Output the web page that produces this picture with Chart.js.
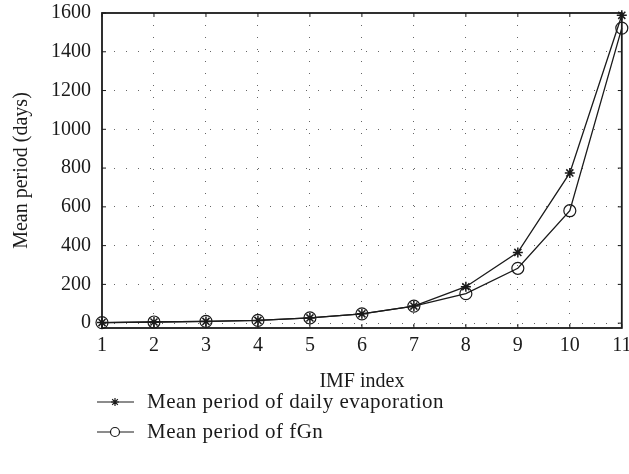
<!DOCTYPE html>
<html>
<head>
<meta charset="utf-8">
<script src="https://cdn.jsdelivr.net/npm/chart.js@4.4.1/dist/chart.umd.min.js"></script>
<style>
  html, body { margin: 0; padding: 0; background: #fff; }
  #wrap { width: 629px; height: 474px; position: relative; }
</style>
</head>
<body>
<div id="wrap"><canvas id="c" width="629" height="474"></canvas></div>
<script>
const imfIndex = [1, 2, 3, 4, 5, 6, 7, 8, 9, 10, 11];
const evaporationPeriod = [3, 6, 9, 14, 27, 48, 88, 188, 365, 775, 1588];
const fgnPeriod = [3, 6, 9, 14, 27, 48, 88, 152, 283, 580, 1522];
const yTicks = [0, 200, 400, 600, 800, 1000, 1200, 1400, 1600];
const seriesNames = ['Mean period of daily evaporation', 'Mean period of fGn'];

const FONT = 'Liberation Serif';
const ink = '#1a1a1a';

const framePlugin = {
  id: 'frame',
  afterDatasetsDraw(chart) {
    const { ctx, chartArea: a, scales: { x, y } } = chart;
    ctx.save();
    ctx.strokeStyle = ink;
    ctx.lineWidth = 1;
    const tl = 4;
    imfIndex.forEach(v => {
      const px = x.getPixelForValue(v);
      ctx.beginPath();
      ctx.moveTo(px, a.bottom); ctx.lineTo(px, a.bottom - tl);
      ctx.moveTo(px, a.top); ctx.lineTo(px, a.top + tl);
      ctx.stroke();
    });
    yTicks.forEach(v => {
      const py = y.getPixelForValue(v);
      ctx.beginPath();
      ctx.moveTo(a.left, py); ctx.lineTo(a.left + tl, py);
      ctx.moveTo(a.right, py); ctx.lineTo(a.right - tl, py);
      ctx.stroke();
    });
    ctx.lineWidth = 1.8;
    ctx.strokeRect(a.left, a.top, a.right - a.left, a.bottom - a.top);
    ctx.restore();
  }
};

const legendPlugin = {
  id: 'customLegend',
  afterDraw(chart) {
    const { ctx } = chart;
    ctx.save();
    const rows = [402, 432];
    chart.data.datasets.forEach((ds, i) => {
      const yy = rows[i];
      ctx.strokeStyle = ink;
      ctx.lineWidth = 1.2;
      ctx.beginPath();
      ctx.moveTo(97, yy); ctx.lineTo(134, yy);
      ctx.stroke();
      ctx.fillStyle = ds.pointStyle === 'star' ? ink : '#ffffff';
      Chart.helpers.drawPoint(ctx, {
        pointStyle: ds.pointStyle, radius: ds.pointStyle === 'star' ? 4 : 4.5, rotation: 0, borderWidth: 1.2
      }, 115, yy);
      ctx.fillStyle = ink;
      ctx.font = '21px "' + FONT + '"';
      ctx.letterSpacing = '0.5px';
      ctx.textBaseline = 'middle';
      ctx.textAlign = 'left';
      ctx.fillText(ds.label, 147, yy);
      ctx.letterSpacing = '0px';
    });
    ctx.restore();
  }
};

new Chart(document.getElementById('c'), {
  type: 'line',
  data: {
    datasets: [
      {
        label: seriesNames[0],
        data: imfIndex.map((v, i) => ({ x: v, y: evaporationPeriod[i] })),
        borderColor: ink, backgroundColor: ink, borderWidth: 1.3,
        pointStyle: 'star', pointRadius: 5, pointBorderWidth: 1.5,
        pointBorderColor: ink, tension: 0, clip: false
      },
      {
        label: seriesNames[1],
        data: imfIndex.map((v, i) => ({ x: v, y: fgnPeriod[i] })),
        borderColor: ink, backgroundColor: 'rgba(255,255,255,0)', borderWidth: 1.3,
        pointStyle: 'circle', pointRadius: 6, pointBorderWidth: 1.2,
        pointBorderColor: ink, pointBackgroundColor: 'rgba(255,255,255,0)', tension: 0, clip: false
      }
    ]
  },
  options: {
    responsive: false,
    animation: false,
    layout: { padding: { top: 13, right: 6, bottom: 76, left: 6 } },
    plugins: { legend: { display: false }, tooltip: { enabled: false } },
    scales: {
      x: {
        type: 'linear', min: 1, max: 11,
        afterFit(s) { s.height = 70; s.paddingRight = 0; s.paddingLeft = 0; },
        ticks: { stepSize: 1, color: ink, padding: 6, font: { family: FONT, size: 20 }, maxRotation: 0 },
        afterBuildTicks(s) { s.ticks = imfIndex.map(v => ({ value: v })); },
        grid: {
          drawTicks: false,
          color: c => (c.tick && (c.tick.value === 1 || c.tick.value === 11)) ? 'rgba(0,0,0,0)' : '#666',
          lineWidth: 1
        },
        border: { display: false, dash: [1, 11] },
        title: { display: true, text: 'IMF index', color: ink, font: { family: FONT, size: 20 }, padding: { top: 4, bottom: 4 } }
      },
      y: {
        min: -25, max: 1600,
        afterFit(s) { s.width = 96; s.paddingTop = 0; s.paddingBottom = 0; },
        afterBuildTicks(s) { s.ticks = yTicks.map(v => ({ value: v })); },
        ticks: { color: ink, padding: 11, font: { family: FONT, size: 20 }, callback: v => String(v) },
        grid: {
          drawTicks: false,
          color: c => (c.tick && c.tick.value === 1600) ? 'rgba(0,0,0,0)' : '#666',
          lineWidth: 1
        },
        border: { display: false, dash: [1, 11] },
        title: { display: true, text: 'Mean period (days)', color: ink, font: { family: FONT, size: 20 }, padding: { top: 4, bottom: 4 } }
      }
    }
  },
  plugins: [framePlugin, legendPlugin]
});
</script>
</body>
</html>
